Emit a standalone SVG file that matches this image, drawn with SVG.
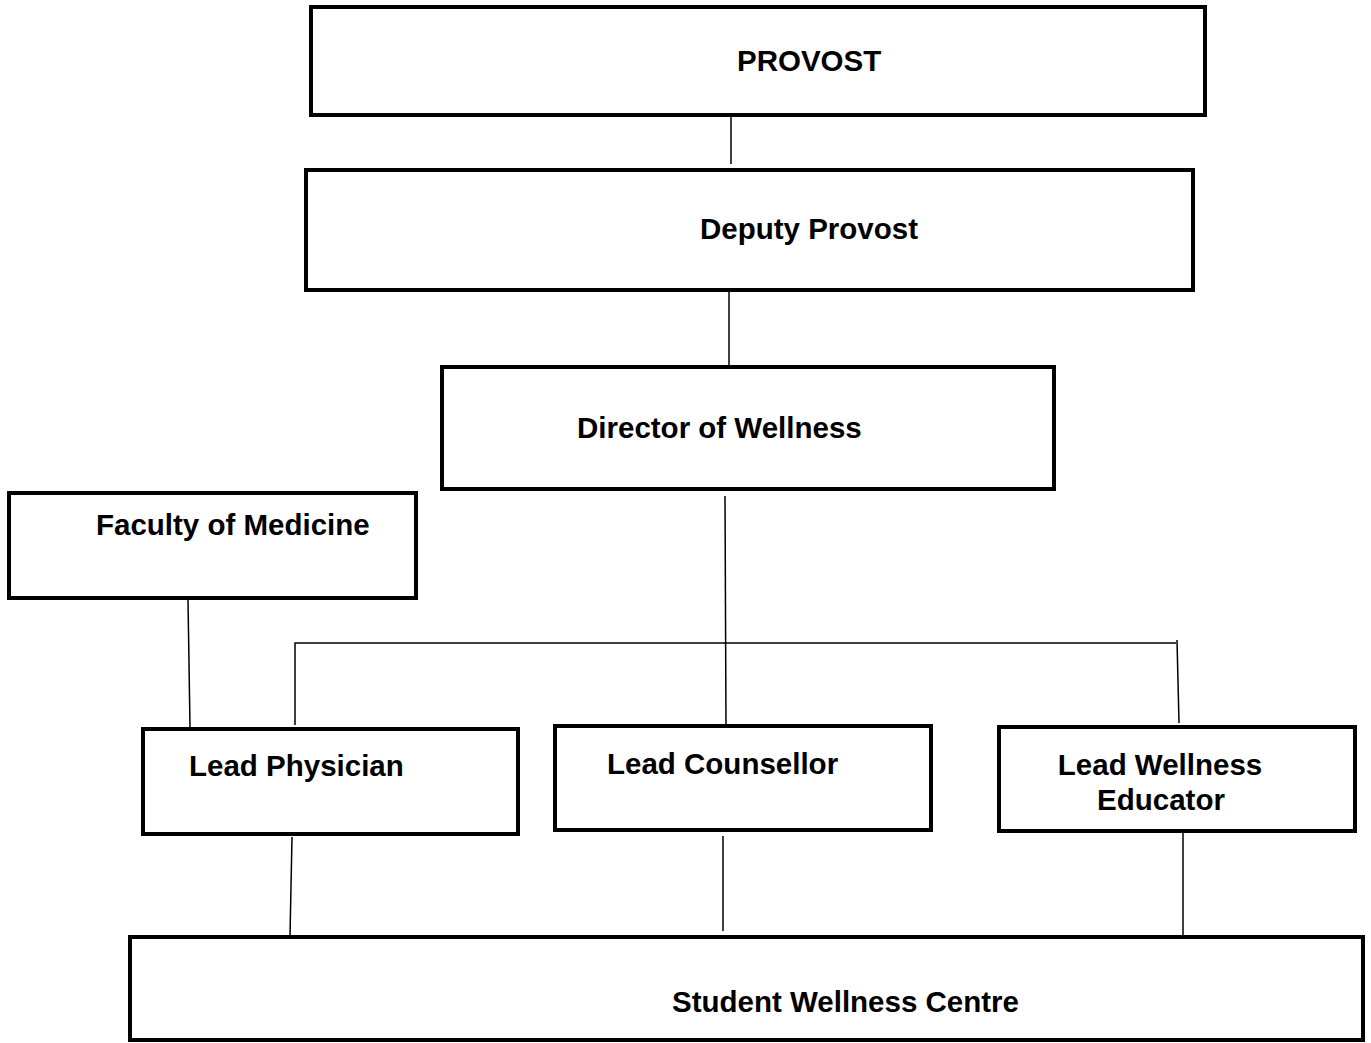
<svg xmlns="http://www.w3.org/2000/svg" width="1371" height="1043" viewBox="0 0 1371 1043">
<style>
.box{fill:#fff;stroke:#000;stroke-width:4}
.lbl{font-family:"Liberation Sans",Arial,sans-serif;font-weight:bold;font-size:29.5px;fill:#000}
.c{text-anchor:middle}
.conn{stroke:#000;stroke-width:1.5;fill:none}
</style>
<rect width="1371" height="1043" fill="#fff"/>
<g id="connectors">
<line class="conn" x1="731" y1="117" x2="731" y2="164"/>
<line class="conn" x1="729" y1="291" x2="729" y2="370"/>
<line class="conn" x1="725" y1="496" x2="726" y2="725"/>
<line class="conn" x1="188" y1="600" x2="190" y2="727"/>
<polyline class="conn" points="295,725 295,643 1176,643"/>
<line class="conn" x1="1177" y1="640" x2="1179" y2="723"/>
<line class="conn" x1="292" y1="837" x2="290" y2="936"/>
<line class="conn" x1="723" y1="836" x2="723" y2="931"/>
<line class="conn" x1="1183" y1="833" x2="1183" y2="935"/>
</g>
<g id="provost">
<rect class="box" x="311" y="7" width="894" height="108"/>
<text class="lbl" x="737" y="71">PROVOST</text>
</g>
<g id="deputy-provost">
<rect class="box" x="306" y="170" width="887" height="120"/>
<text class="lbl" x="700" y="239">Deputy Provost</text>
</g>
<g id="director-of-wellness">
<rect class="box" x="442" y="367" width="612" height="122"/>
<text class="lbl" x="577" y="438">Director of Wellness</text>
</g>
<g id="faculty-of-medicine">
<rect class="box" x="9" y="493" width="407" height="105"/>
<text class="lbl" x="96" y="535">Faculty of Medicine</text>
</g>
<g id="lead-physician">
<rect class="box" x="143" y="729" width="375" height="105"/>
<text class="lbl" x="189" y="776">Lead Physician</text>
</g>
<g id="lead-counsellor">
<rect class="box" x="555" y="726" width="376" height="104"/>
<text class="lbl" x="607" y="774">Lead Counsellor</text>
</g>
<g id="lead-wellness-educator">
<rect class="box" x="999" y="727" width="356" height="104"/>
<text class="lbl c" x="1160" y="775">Lead Wellness</text>
<text class="lbl c" x="1161" y="810">Educator</text>
</g>
<g id="student-wellness-centre">
<rect class="box" x="130" y="937" width="1233" height="103"/>
<text class="lbl" x="672" y="1012">Student Wellness Centre</text>
</g>
</svg>
